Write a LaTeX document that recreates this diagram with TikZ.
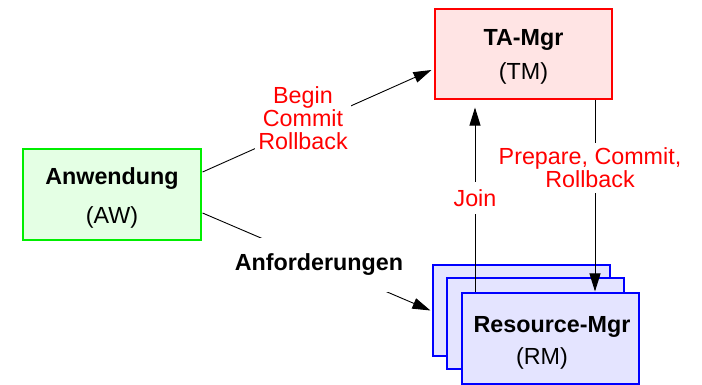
\documentclass[tikz,border=0pt]{standalone}
\usepackage{fontspec}
\setmainfont{Liberation Sans}
\usetikzlibrary{arrows.meta}
\definecolor{tmfill}{HTML}{FFE4E4}
\definecolor{awfill}{HTML}{E4FFE4}
\definecolor{rmfill}{HTML}{E4E4FF}
\definecolor{awline}{HTML}{00EE00}
\tikzset{
  box/.style={draw, line width=1.1pt, minimum width=177pt, minimum height=90pt, inner sep=0pt},
  txt/.style={font=\fontsize{23.3}{23}\selectfont, inner sep=0pt},
  btxt/.style={font=\fontsize{23.3}{23}\selectfont\bfseries, inner sep=0pt},
  lbl/.style={font=\fontsize{23.3}{23}\selectfont, text=red, fill=white, align=center, inner sep=3pt},
  arr/.style={line width=0.9pt, -{Triangle[length=18pt,width=11pt]}},
}
\begin{document}
\begin{tikzpicture}[x=1pt,y=-1pt]
\useasboundingbox (0,0) rectangle (702,384);
% boxes
\node[box, draw=red, fill=tmfill] (tm) at (523.5,54) {};
\node[box, draw=awline, fill=awfill, minimum width=178pt, minimum height=91pt] (aw) at (112,194.5) {};
\node[box, draw=blue, fill=rmfill, minimum height=91pt] (rm3) at (521.5,310.5) {};
\node[box, draw=blue, fill=rmfill, minimum height=91pt] (rm2) at (535.5,323.5) {};
\node[box, draw=blue, fill=rmfill, minimum height=91pt] (rm1) at (550.5,338.5) {};
% box texts
\node[btxt] (tmt) at (523.5,40) {TA-Mgr};
\node[txt] (tms) at (523.5,73) {(TM)};
\node[btxt] (awt) at (112,179) {Anwendung};
\node[txt] (aws) at (112,217) {(AW)};
\node[btxt] (rmt) at (552,327) {Resource-Mgr};
\node[txt] (rms) at (542,358) {(RM)};
% connectors
\draw[arr] ([xshift=1pt,yshift=22.5pt]aw.east) -- ([xshift=-3pt,yshift=-16pt]tm.west);
\draw[arr] ([xshift=1pt,yshift=-18.5pt]aw.east) -- ([xshift=-2pt]rm3.west);
\draw[arr] ([xshift=-75.5pt]rm1.north) -- ([xshift=-48.5pt,yshift=-8pt]tm.south);
\draw[arr] ([xshift=71.5pt]tm.south) -- ([xshift=44.5pt,yshift=1pt]rm1.north);
% labels
\node[lbl] (l1) at (303,118) {Begin\\Commit\\Rollback};
\node[btxt, fill=white, inner xsep=2pt, inner ysep=16pt] (l2) at (319,265) {Anforderungen};
\node[lbl, inner ysep=7pt] (l3) at (475,198) {Join};
\node[lbl, inner ysep=5pt] (l4) at (590,168) {Prepare, Commit,\\Rollback};
\end{tikzpicture}
\end{document}
